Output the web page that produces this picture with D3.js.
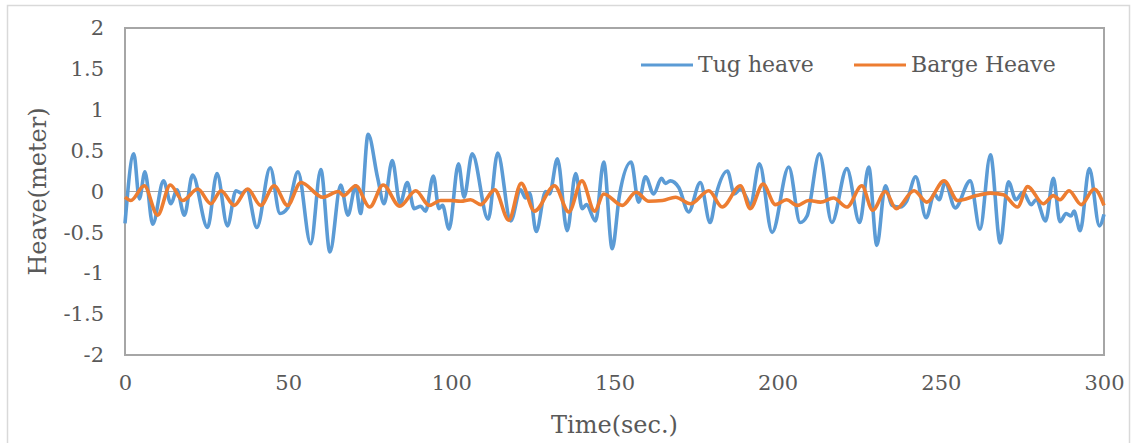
<!DOCTYPE html>
<html>
<head>
<meta charset="utf-8">
<script src="https://cdn.jsdelivr.net/npm/d3@7"></script>
<style>
  html, body { margin: 0; padding: 0; background: #ffffff; }
  svg { display: block; }
  .tick text { font-family: "DejaVu Serif", serif; fill: #595959; }
</style>
</head>
<body>
<svg id="chart" width="1136" height="443"></svg>
<script>
// Heave time histories (seconds, metres), sampled at the turning points of each trace
const tugTime = [0, 2.7, 4.4, 6.1, 8.5, 11.8, 14.1, 15.9, 18.2, 20.7, 25.3, 28.2, 31.4, 34.0, 35.8, 37.3,
  40.4, 44.5, 47.5, 49.9, 53.0, 56.9, 60.0, 62.8, 66.1, 68.3, 70.7, 72.2, 74.5, 77.4, 79.4, 81.9,
  84.3, 86.5, 88.6, 90.6, 92.1, 94.5, 96.2, 97.3, 99.3, 102.2, 103.9, 106.4, 111.3, 114.2, 118.2,
  121.2, 122.8, 124.0, 126.0, 128.9, 130.1, 132.5, 135.5, 138.1, 140.1, 141.4, 144.2, 146.7, 149.3,
  151.5, 155.1, 157.4, 159.5, 162.0, 164.4, 165.6, 167.1, 169.7, 172.7, 176.3, 179.3, 181.2, 184.6,
  186.7, 188.6, 190.6, 191.6, 194.4, 198.3, 203.4, 206.9, 209.0, 212.8, 216.6, 221.2, 225.1, 227.9,
  230.4, 233.0, 235.0, 237.6, 239.5, 242.3, 245.5, 248.0, 249.5, 251.3, 254.4, 259.0, 262.0, 265.2,
  268.2, 270.7, 273.0, 275.2, 277.7, 279.2, 282.1, 284.5, 286.5, 288.4, 289.9, 290.8, 292.7, 295.5,
  298.6, 300];
const tugHeave = [-0.39, 0.46, -0.09, 0.24, -0.40, 0.13, -0.15, 0.02, -0.29, 0.20, -0.44, 0.22, -0.42, 0.01, -0.02, 0.02,
  -0.44, 0.29, -0.27, -0.20, 0.24, -0.64, 0.27, -0.74, 0.08, -0.29, 0.07, -0.27, 0.70, 0.17, -0.15, 0.38,
  -0.15, 0.11, -0.21, -0.18, -0.24, 0.19, -0.21, -0.17, -0.46, 0.34, -0.07, 0.46, -0.34, 0.47, -0.36,
  0.02, -0.08, -0.02, -0.49, 0.00, -0.03, 0.40, -0.48, 0.22, -0.21, -0.16, -0.36, 0.36, -0.70,
  -0.05, 0.36, -0.13, 0.18, -0.03, 0.16, 0.10, 0.13, 0.05, -0.25, 0.11, -0.38, -0.03, 0.25,
  -0.03, 0.03, -0.09, -0.18, 0.34, -0.50, 0.30, -0.38, -0.30, 0.46, -0.38, 0.28, -0.38, 0.30,
  -0.66, 0.07, -0.17, -0.19, -0.12, 0.18, -0.32, -0.03, -0.10, 0.11, -0.20, 0.13, -0.46, 0.45,
  -0.63, 0.12, -0.10, -0.01, -0.16, -0.10, -0.36, 0.16, -0.37, -0.27, -0.30, -0.24, -0.48, 0.28,
  -0.42, -0.28];

const bargeTime = [0, 1.8, 5.9, 10.0, 13.9, 17.7, 22.3, 26.3, 29.4, 33.5, 37.6, 41.6, 45.7, 49.8, 53.9,
  60.6, 65.4, 67.0, 70.7, 75.0, 79.1, 84.2, 89.1, 93.2, 96.7, 99.8, 102.9, 105.9, 109.0, 113.3,
  117.6, 121.4, 125.5, 131.6, 136.0, 140.0, 143.9, 146.7, 152.4, 156.6, 160.5, 164.7, 168.7, 173.3,
  178.9, 183.0, 188.6, 191.6, 195.5, 199.3, 202.7, 206.0, 209.5, 213.1, 217.1, 221.2, 225.8, 229.1,
  233.0, 236.3, 241.8, 245.7, 251.0, 255.2, 261.0, 265.1, 269.2, 273.5, 276.6, 281.4, 284.5, 286.5,
  289.3, 293.0, 297.0, 300];
const bargeHeave = [-0.07, -0.11, 0.07, -0.29, 0.08, -0.11, 0.03, -0.15, 0.01, -0.17, 0.03, -0.17, 0.07, -0.17, 0.11,
  -0.07, 0.00, -0.05, 0.07, -0.19, 0.08, -0.18, 0.01, -0.17, -0.11, -0.11, -0.12, -0.10, -0.16, 0.02,
  -0.35, 0.10, -0.24, 0.07, -0.25, 0.13, -0.24, -0.03, -0.17, -0.01, -0.12, -0.11, -0.07, -0.15,
  0.01, -0.19, 0.07, -0.21, 0.09, -0.16, -0.10, -0.17, -0.11, -0.13, -0.08, -0.19, 0.07, -0.23,
  0.00, -0.21, 0.01, -0.13, 0.13, -0.11, -0.05, -0.02, -0.04, -0.19, 0.06, -0.15, -0.05, -0.10,
  0.01, -0.16, 0.03, -0.17];

const seriesNames = ["Tug heave", "Barge Heave"];
const seriesColors = ["#5b9bd5", "#ed7d31"];

const xTicks = [0, 50, 100, 150, 200, 250, 300];
const yTicks = [2, 1.5, 1, 0.5, 0, -0.5, -1, -1.5, -2];
const yTickLabels = ["2", "1.5", "1", "0.5", "0", "-0.5", "-1", "-1.5", "-2"];

const svg = d3.select("#chart");
const plot = { left: 125, right: 1104, top: 28, bottom: 355 };

const x = d3.scaleLinear().domain([0, 300]).range([plot.left, plot.right]);
const y = d3.scaleLinear().domain([-2, 2]).range([plot.bottom, plot.top]);

// outer chart border
svg.append("rect")
  .attr("x", 7.5).attr("y", 5.5).attr("width", 1122).attr("height", 440)
  .attr("fill", "none").attr("stroke", "#d9d9d9").attr("stroke-width", 1.5);

// zero reference line
svg.append("line")
  .attr("x1", plot.left).attr("x2", plot.right)
  .attr("y1", y(0)).attr("y2", y(0))
  .attr("stroke", "#a6a6a6").attr("stroke-width", 1.2);

// plot frame
svg.append("rect")
  .attr("x", plot.left).attr("y", plot.top)
  .attr("width", plot.right - plot.left).attr("height", plot.bottom - plot.top)
  .attr("fill", "none").attr("stroke", "#a6a6a6").attr("stroke-width", 2);

// axes
const xAxis = svg.append("g")
  .attr("transform", `translate(0,${plot.bottom})`)
  .call(d3.axisBottom(x).tickValues(xTicks).tickSize(0).tickPadding(20).tickFormat(d3.format("d")));
xAxis.select(".domain").remove();
xAxis.selectAll("text").attr("font-size", 21);

const yAxis = svg.append("g")
  .attr("transform", `translate(${plot.left},0)`)
  .call(d3.axisLeft(y).tickValues(yTicks).tickSize(0).tickPadding(21)
    .tickFormat((d, i) => yTickLabels[i]));
yAxis.select(".domain").remove();
yAxis.selectAll("text").attr("font-size", 21);

// axis titles
svg.append("text")
  .attr("x", (plot.left + plot.right) / 2).attr("y", 433)
  .attr("text-anchor", "middle")
  .attr("font-family", "DejaVu Serif, serif").attr("font-size", 24).attr("fill", "#595959")
  .text("Time(sec.)");

svg.append("text")
  .attr("transform", `translate(46,${y(0)}) rotate(-90)`)
  .attr("text-anchor", "middle")
  .attr("font-family", "DejaVu Serif, serif").attr("font-size", 24).attr("fill", "#595959")
  .text("Heave(meter)");

// series lines
const line = d3.line()
  .x(d => x(d[0]))
  .y(d => y(d[1]))
  .curve(d3.curveMonotoneX);

const tugData = tugTime.map((t, i) => [t, tugHeave[i]]);
const bargeData = bargeTime.map((t, i) => [t, bargeHeave[i]]);

svg.append("path")
  .datum(tugData)
  .attr("d", line)
  .attr("fill", "none")
  .attr("stroke", seriesColors[0])
  .attr("stroke-width", 3.6)
  .attr("stroke-linejoin", "round");

svg.append("path")
  .datum(bargeData)
  .attr("d", line)
  .attr("fill", "none")
  .attr("stroke", seriesColors[1])
  .attr("stroke-width", 3.6)
  .attr("stroke-linejoin", "round");

// legend
const legendItems = [
  { name: seriesNames[0], color: seriesColors[0], x: 641 },
  { name: seriesNames[1], color: seriesColors[1], x: 854 }
];
const legend = svg.append("g");
legendItems.forEach(item => {
  legend.append("line")
    .attr("x1", item.x).attr("x2", item.x + 52)
    .attr("y1", 65).attr("y2", 65)
    .attr("stroke", item.color).attr("stroke-width", 3.2);
  legend.append("text")
    .attr("x", item.x + 57).attr("y", 72)
    .attr("font-family", "DejaVu Serif, serif").attr("font-size", 22).attr("fill", "#595959")
    .text(item.name);
});
</script>
</body>
</html>
